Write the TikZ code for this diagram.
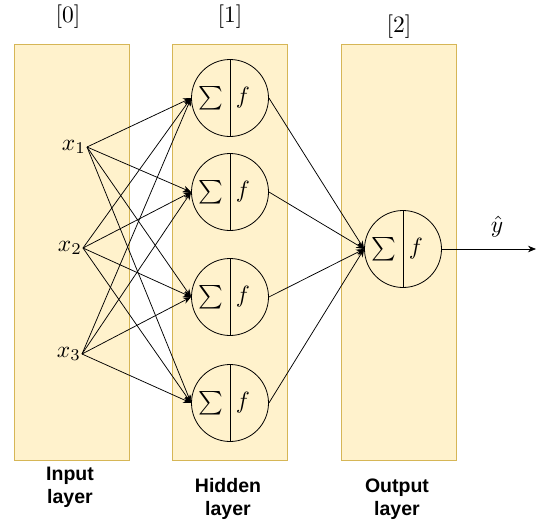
\documentclass[tikz,border=0pt]{standalone}
\usepackage{graphicx}
\usepackage{fontspec}
\newfontfamily\labfont{Liberation Sans}
\usetikzlibrary{arrows.meta}
\definecolor{layerfill}{HTML}{FFF2CC}
\definecolor{layerdraw}{HTML}{D6B656}
\newcommand{\bigmath}[1]{\scalebox{2.35}{$#1$}}
\begin{document}
\begin{tikzpicture}[x=1pt,y=-1pt,
  layer/.style={draw=layerdraw,fill=layerfill,line width=0.9pt},
  neuron/.style={draw,circle,minimum size=77pt,inner sep=0pt,line width=0.8pt},
  conn/.style={-{Stealth[length=8pt,width=6.5pt]},line width=0.75pt},
  mathlab/.style={inner sep=1pt},
  caption/.style={font=\labfont\bfseries\fontsize{19.5}{23}\selectfont,align=center}]
\useasboundingbox (0,0) rectangle (546,525);
% layers
\draw[layer] (14,44) rectangle (129,460);
\draw[layer] (172,44) rectangle (287,460);
\draw[layer] (341,44) rectangle (456,460);
% layer indices
\node[mathlab] (l0) at (68,17) {\bigmath{[0]}};
\node[mathlab] (l1) at (230,17) {\bigmath{[1]}};
\node[mathlab] (l2) at (399,27) {\bigmath{[2]}};
% inputs
\node[mathlab,anchor=east] (x1) at (87,147) {\bigmath{x_1}};
\node[mathlab,anchor=east] (x2) at (83,248) {\bigmath{x_2}};
\node[mathlab,anchor=east] (x3) at (82,354) {\bigmath{x_3}};
% hidden neurons
\foreach \n/\yy in {h1/98,h2/192,h3/297,h4/403}{
  \node[neuron] (\n) at (230,\yy) {};
  \draw[line width=0.8pt] (\n.north) -- (\n.south);
  \node[mathlab] (\n s) at ([xshift=-19pt]\n.center) {\bigmath{\sum}};
  \node[mathlab] (\n f) at ([xshift=13pt]\n.center) {\bigmath{f}};
}
% output neuron
\node[neuron] (o) at (403,249) {};
\draw[line width=0.8pt] (o.north) -- (o.south);
\node[mathlab] (os) at ([xshift=-19pt]o.center) {\bigmath{\sum}};
\node[mathlab] (of) at ([xshift=13pt]o.center) {\bigmath{f}};
% connections
\foreach \i in {1,2,3}{
  \foreach \j in {1,2,3,4}{
    \draw[conn] (x\i.east) -- (h\j.west);
  }
}
\foreach \j in {1,2,3,4}{
  \draw[conn] (h\j.east) -- (o.west);
}
\coordinate (yend) at (536,249);
\draw[conn] (o.east) -- (yend);
\node[mathlab] (yhat) at (497,227) {\bigmath{\hat{y}}};
% captions
\node[caption] (c0) at (70,487) {Input\\layer};
\node[caption] (c1) at (228,499) {Hidden\\layer};
\node[caption] (c2) at (397,499) {Output\\layer};
\end{tikzpicture}
\end{document}
